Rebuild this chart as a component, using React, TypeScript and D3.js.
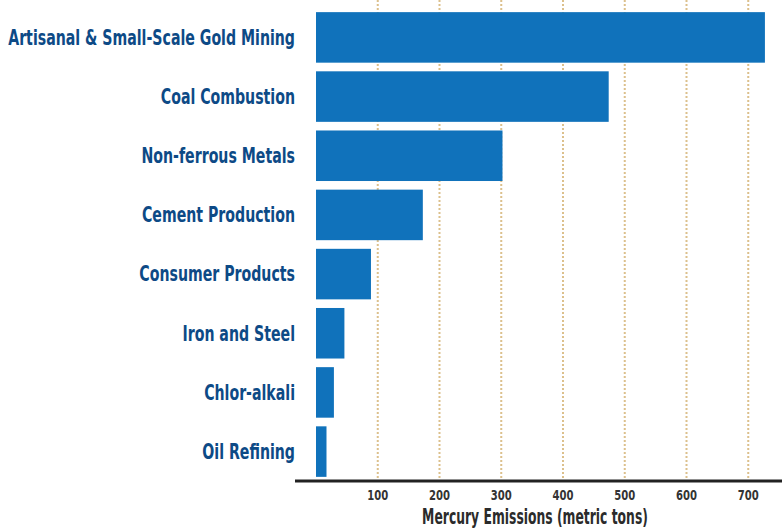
import { useEffect, useRef } from "react";
import * as d3 from "d3";

const categories = [
  "Artisanal & Small-Scale Gold Mining",
  "Coal Combustion",
  "Non-ferrous Metals",
  "Cement Production",
  "Consumer Products",
  "Iron and Steel",
  "Chlor-alkali",
  "Oil Refining",
];
const emissions = [727, 474, 302, 173, 89, 46, 29, 17];
const tickValues = [100, 200, 300, 400, 500, 600, 700];
const axisTitle = "Mercury Emissions (metric tons)";

const FONT = "'DejaVu Sans Condensed', 'Liberation Sans Narrow', 'Open Sans', sans-serif";

const App = () => {
  const svgRef = useRef<SVGSVGElement | null>(null);

  useEffect(() => {
    if (!svgRef.current) return;
    document.body.style.margin = "0";

    const width = 782;
    const height = 530;
    const margin = { top: 8, right: 0, bottom: 49, left: 316 };

    const svg = d3.select(svgRef.current).attr("width", width).attr("height", height);
    svg.selectAll("*").remove();

    const x = d3
      .scaleLinear()
      .domain([0, 755])
      .range([margin.left, margin.left + 755 * 0.6175]);

    const y = d3
      .scaleBand<string>()
      .domain(categories)
      .range([margin.top, height - margin.bottom])
      .paddingInner(0.146)
      .paddingOuter(0.07);

    const axisY = 481;

    // dotted grid lines
    svg
      .append("g")
      .selectAll("line")
      .data(tickValues)
      .join("line")
      .attr("x1", (d) => x(d))
      .attr("x2", (d) => x(d))
      .attr("y1", 0)
      .attr("y2", axisY)
      .attr("stroke", "#dcc08c")
      .attr("stroke-width", 2)
      .attr("stroke-dasharray", "2,2");

    // bars
    svg
      .append("g")
      .selectAll("rect")
      .data(emissions)
      .join("rect")
      .attr("x", x(0))
      .attr("y", (_, i) => y(categories[i])!)
      .attr("width", (d) => x(d) - x(0))
      .attr("height", y.bandwidth())
      .attr("fill", "#1072bb");

    // category labels, squeezed horizontally to mimic a condensed face
    const labels = svg
      .append("g")
      .selectAll("text")
      .data(categories)
      .join("text")
      .attr("text-anchor", "end")
      .attr("dy", "0.33em")
      .attr("fill", "#0d4a86")
      .style("font-family", FONT)
      .style("font-weight", "bold")
      .style("font-size", "22px")
      .text((d) => d);
    let maxW = 1;
    labels.each(function () {
      maxW = Math.max(maxW, (this as SVGTextElement).getComputedTextLength());
    });
    const sx = 287 / maxW;
    labels.attr("transform", (d) => `translate(295,${y(d)! + y.bandwidth() / 2}) scale(${sx},1)`);

    // x axis
    const axis = svg.append("g").attr("transform", `translate(0,${axisY})`);
    axis
      .append("line")
      .attr("x1", 295)
      .attr("x2", width)
      .attr("stroke", "#222")
      .attr("stroke-width", 3);
    axis
      .selectAll("text")
      .data(tickValues)
      .join("text")
      .attr("transform", (d) => `translate(${x(d)},19) scale(0.8,1)`)
      .attr("text-anchor", "middle")
      .attr("fill", "#333")
      .style("font-family", FONT)
      .style("font-weight", "bold")
      .style("font-size", "14px")
      .text((d) => d3.format("d")(d));

    const title = svg
      .append("text")
      .attr("text-anchor", "middle")
      .attr("fill", "#2b2b2b")
      .style("font-family", FONT)
      .style("font-weight", "bold")
      .style("font-size", "22px")
      .text(axisTitle);
    const tw = (title.node() as SVGTextElement).getComputedTextLength();
    title.attr("transform", `translate(535,524) scale(${226 / tw},1)`);
  }, []);

  return <svg ref={svgRef}></svg>;
};

export default App;
